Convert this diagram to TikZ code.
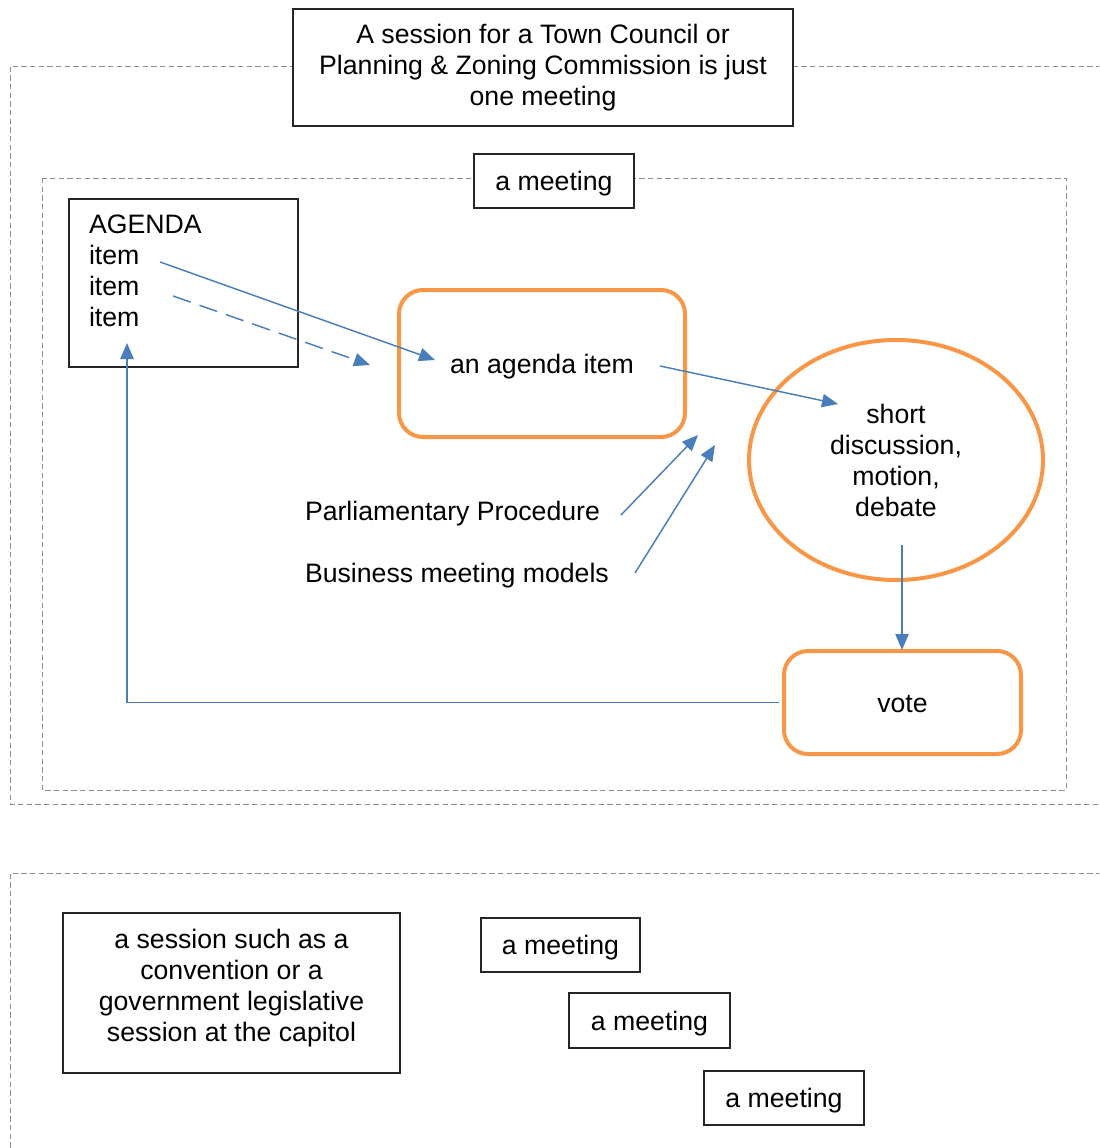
\documentclass[tikz,border=0pt]{standalone}
\usepackage{fontspec}
\setmainfont{Liberation Sans}
\usetikzlibrary{arrows.meta,calc,shapes.geometric}
\definecolor{flowblue}{HTML}{4A7EBB}
\definecolor{accentorange}{HTML}{F79646}
\begin{document}
\begin{tikzpicture}[x=0.75pt,y=-0.75pt,
  every node/.style={font=\fontsize{20pt}{23.25pt}\selectfont, inner sep=0pt, outer sep=0pt},
  plainbox/.style={draw=black!85, line width=1pt, fill=white, align=center},
  orangebox/.style={draw=accentorange, line width=3pt, rounded corners=18pt, align=center},
  oneline/.style={text height=19pt, text depth=4.2pt},
  frame/.style={draw=black!45, line width=0.7pt, dash pattern=on 4pt off 2.5pt},
  flow/.style={draw=flowblue, line width=1.1pt, -{Triangle[length=12pt,width=10pt]}},
  flowdash/.style={flow, dash pattern=on 14pt off 7pt}
]
\useasboundingbox (0,0) rectangle (1099,1148);

% dashed session frames (open to the right / bottom)
\begin{scope}
\clip (0,0) rectangle (1099,1148);
\draw[frame] (1110,66) -- (10,66) -- (10,804) -- (1110,804);
\draw[frame] (1110,873) -- (10,873) -- (10,1160);
\end{scope}
% dashed meeting frame
\draw[frame] (42,178) rectangle (1066,790);

% headings
\node[plainbox, minimum width=375pt, minimum height=87.75pt] (session) at (543,67.5)
  {A session for a Town Council or\\Planning \& Zoning Commission is just\\one meeting};
\node[plainbox, oneline, minimum width=120pt, minimum height=40.5pt] (meeting) at (554,181) {a meeting};

% agenda list
\node[plainbox, minimum width=171.75pt, minimum height=126pt] (agenda) at (183.5,283) {};
\node[anchor=west, align=left] (agendatext) at (89,271) {AGENDA\\item\\item\\item};

% process shapes
\node[orangebox, oneline, minimum width=214.5pt, minimum height=110.25pt] (item) at (542,363.5) {an agenda item};
\node[draw=accentorange, line width=3pt, ellipse, minimum width=220.5pt, minimum height=180pt, align=center]
  (debate) at (896,460) {short\\discussion,\\motion,\\debate};
\node[orangebox, oneline, minimum width=177.75pt, minimum height=77.25pt, outer sep=4pt] (vote) at (902.5,702.5) {vote};

% influences
\node[anchor=west, yshift=-2.25pt] (parl) at (305,511) {Parliamentary Procedure};
\node[anchor=west, yshift=-2.25pt] (biz) at (305,573) {Business meeting models};

% connector end points
\coordinate (itemA) at (160,262);
\coordinate (itemA-tip) at (435,360);
\coordinate (itemB) at (173,296);
\coordinate (itemB-tip) at (370,365);
\coordinate (item-out) at (660,366);
\coordinate (debate-in) at (838,404);
\coordinate (debate-out) at (902,545);
\coordinate (vote-in) at (902,650);
\coordinate (agenda-in) at (127,343);
\coordinate (parl-end) at (621,515);
\coordinate (parl-tip) at (698,435);
\coordinate (biz-end) at (635,573);
\coordinate (biz-tip) at (715,445);

% connectors
\draw[flow] (itemA) -- (itemA-tip);
\draw[flowdash] (itemB) -- (itemB-tip);
\draw[flow] (item-out) -- (debate-in);
\draw[flow] (debate-out) -- (vote-in);
\draw[flow] (vote.west) -| (agenda-in);
\draw[flow] (parl-end) -- (parl-tip);
\draw[flow] (biz-end) -- (biz-tip);

% a longer session
\node[plainbox, minimum width=252.75pt, minimum height=120pt] (longsession) at (231.5,993) {};
\node[align=center] (longsessiontext) at (231.5,988.5)
  {a session such as a\\convention or a\\government legislative\\session at the capitol};
\node[plainbox, oneline, minimum width=119.25pt, minimum height=40.5pt] (meet1) at (560.5,945) {a meeting};
\node[plainbox, oneline, minimum width=120.75pt, minimum height=41.25pt] (meet2) at (649.5,1020.5) {a meeting};
\node[plainbox, oneline, minimum width=120pt, minimum height=40.5pt] (meet3) at (784,1098) {a meeting};
\end{tikzpicture}
\end{document}
